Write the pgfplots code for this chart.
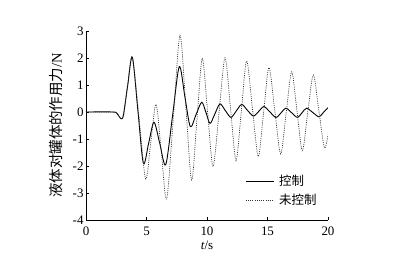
\documentclass[border=0pt]{standalone}
\usepackage{fontspec}
\setmainfont{Liberation Serif}
\newfontfamily\cjk{Noto Sans CJK SC}
\usepackage{pgfplots}
\pgfplotsset{compat=1.18}
\begin{document}
\begin{tikzpicture}
\begin{axis}[
  name=ax,
  scale only axis,
  width=242bp, height=189bp,
  xmin=0, xmax=20, ymin=-4, ymax=3,
  axis lines*=left,
  axis line style={black, line width=0.8pt},
  xtick={0,5,10,15,20},
  ytick={-4,-3,-2,-1,0,1,2,3},
  tick align=inside,
  major tick length=3bp,
  tick style={black, line width=0.6pt},
  /pgf/number format/assume math mode=true,
  ticklabel style={font=\fontsize{13}{15}\selectfont},
  xticklabel style={yshift=-3bp},
  yticklabel style={xshift=1bp},
  xlabel={\fontsize{13}{15}\selectfont\textit{t}/s},
  xlabel style={yshift=1bp},
  ylabel={\fontsize{14.5}{16}\selectfont\cjk 液体对罐体的作用力\normalfont/N},
  ylabel style={yshift=3bp},
  legend style={draw=none, fill=none, at={(0.645,0.26)}, anchor=north west,
    font=\fontsize{12.5}{14}\selectfont\cjk, row sep=3bp},
  legend cell align=left,
  legend image code/.code={\draw[#1] (0bp,0bp) -- (28bp,0bp);},
]
\addplot[black, line width=0.9pt, smooth, tension=0.5] coordinates {
(0,0) (2.2,0) (2.55,-0.05) (2.9,-0.25) (3.1,-0.1) (3.45,1.0) (3.83,2.03)
(4.29,0.05) (4.74,-1.9) (5.18,-1.15) (5.62,-0.38) (6.1,-1.17) (6.59,-1.95)
(7.15,-0.15) (7.71,1.68) (8.17,0.57) (8.62,-0.54) (9.09,-0.1) (9.56,0.36)
(9.9,0) (10.25,-0.42) (10.66,-0.06) (11.07,0.3) (11.52,0.05) (11.98,-0.2)
(12.42,0.04) (12.87,0.28) (13.35,0.06) (13.83,-0.15) (14.27,0.02) (14.71,0.2)
(15.2,0) (15.7,-0.2) (16.12,-0.03) (16.53,0.14) (17.0,-0.03) (17.47,-0.2)
(17.85,-0.03) (18.23,0.14) (18.75,-0.02) (19.26,-0.18) (19.63,-0.01) (20,0.16)
};
\addlegendentry{\hspace{3bp}控制}
\addplot[black!80, line width=0.7pt, dash pattern=on 1bp off 1.2bp, smooth, tension=0.5] coordinates {
(0,0) (2.2,0) (2.55,-0.05) (2.9,-0.25) (3.1,-0.1) (3.45,1.0) (3.83,2.03)
(4.38,-0.2) (4.93,-2.48) (5.36,-1.1) (5.79,0.28) (6.23,-1.5) (6.67,-3.22)
(7.22,-0.2) (7.77,2.85) (8.25,0.2) (8.73,-2.52) (9.17,-0.27) (9.61,1.99)
(10.05,0) (10.5,-2.02) (11.0,0) (11.49,2.01) (11.95,0.1) (12.4,-1.8)
(12.84,0.05) (13.28,1.89) (13.76,0.1) (14.24,-1.65) (14.68,0) (15.12,1.65)
(15.6,0.05) (16.09,-1.55) (16.55,0) (17.0,1.49) (17.44,0.03) (17.88,-1.43)
(18.33,0) (18.79,1.37) (19.25,0.02) (19.7,-1.32) (20,-0.85)
};
\addlegendentry{\hspace{3bp}未控制}
\end{axis}
\pgfresetboundingbox
\path[use as bounding box] ([xshift=-86bp,yshift=-40bp]ax.south west) rectangle ([xshift=89bp,yshift=31bp]ax.north east);
\end{tikzpicture}
\end{document}
